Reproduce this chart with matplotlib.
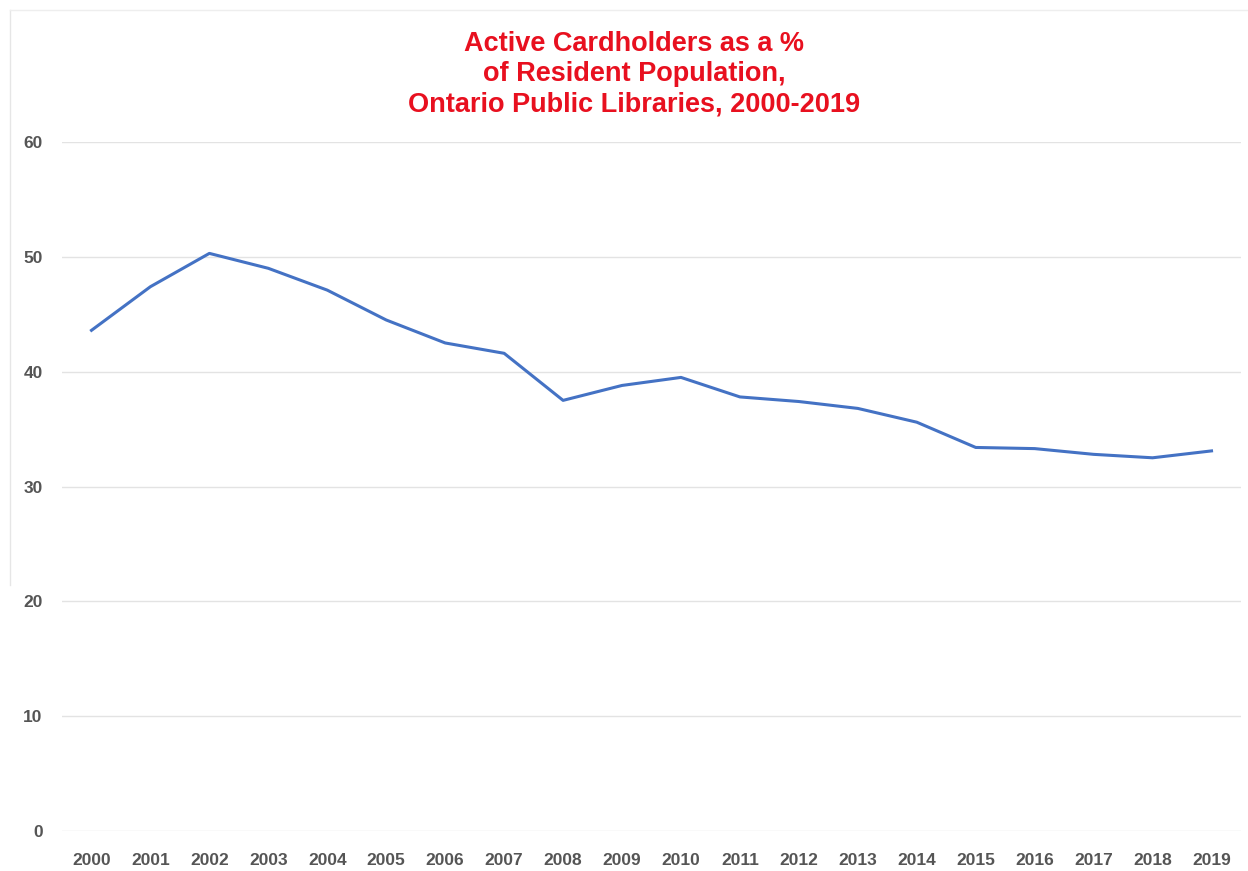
import matplotlib
matplotlib.use("Agg")
import matplotlib.pyplot as plt
from matplotlib.lines import Line2D

years = [str(y) for y in range(2000, 2020)]
values = [43.6, 47.4, 50.3, 49.0, 47.1, 44.5, 42.5, 41.6, 37.5, 38.8,
          39.5, 37.8, 37.4, 36.8, 35.6, 33.4, 33.3, 32.8, 32.5, 33.1]
yticks = [0, 10, 20, 30, 40, 50, 60]
title = "Active Cardholders as a %\nof Resident Population,\nOntario Public Libraries, 2000-2019"

plt.rcParams['font.family'] = ['Liberation Sans', 'DejaVu Sans']

fig = plt.figure(figsize=(12.48, 8.71), dpi=100)
ax = fig.add_axes([62/1248, 1-831/871, (1241-62)/1248, (831-142)/871])

x = list(range(len(years)))
ax.plot(x, values, color='#4472C4', linewidth=2.2, solid_joinstyle='round')
ax.set_xlim(-0.5, len(years)-0.5)
ax.set_ylim(0, 60)
ax.set_yticks(yticks)
ax.set_xticks(x)
ax.set_xticklabels(years)
ax.grid(axis='y', color='#e3e3e3', linewidth=1)
ax.set_axisbelow(True)
for s in ax.spines.values():
    s.set_visible(False)
ax.tick_params(length=0, labelsize=12.5, labelcolor='#555555')
for lab in ax.get_xticklabels() + ax.get_yticklabels():
    lab.set_fontweight('bold')
ax.tick_params(axis='x', pad=16)
ax.tick_params(axis='y', pad=14)

fig.text(634/1248, 1-74/871, title, ha='center', va='center', color='#E8101F',
         fontsize=19.5, fontweight='bold', linespacing=1.2)

# faint frame lines of the original screenshot
fig.add_artist(Line2D([10/1248, 10/1248], [1-10/871, 1-585/871], color='#e6e6e6', linewidth=1))
fig.add_artist(Line2D([10/1248, 1], [1-10/871, 1-10/871], color='#eeeeee', linewidth=1))

fig.savefig('out.png', dpi=100)
